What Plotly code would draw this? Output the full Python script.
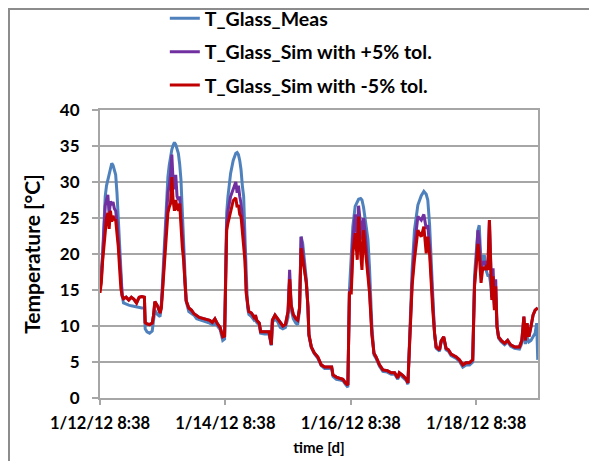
import plotly.graph_objects as go
import pandas as pd

# ---- data (hours after 1/12/12 8:38, temperatures in °C) ----
start_time = "2012-01-12 08:38"
hours = [0, 0.5, 1, 1.5, 2, 2.5, 3, 3.5, 4, 4.5, 5, 5.5, 6, 6.5, 7, 7.5, 8, 8.5, 9, 10,
         11, 12, 13, 14, 15, 16, 17, 17.3, 18, 19, 20, 20.5, 21, 22, 23, 23.5, 24, 24.5, 25, 25.5,
         26, 26.5, 27, 27.5, 28, 28.5, 29, 29.5, 30, 30.5, 31, 31.5, 32, 32.5, 33, 34, 35, 36, 37, 38,
         39, 40, 41, 42, 43, 44, 45, 46, 47, 47.7, 48, 48.5, 49, 50, 51, 52, 52.5, 53, 53.5, 54,
         54.5, 55, 55.5, 56, 56.5, 57, 58, 59, 59.5, 60, 61, 61.5, 63, 64.7, 65.6, 66, 67, 68, 69, 70,
         71, 72, 72.6, 73.2, 74, 75, 75.7, 76.4, 77, 77.6, 78.3, 79, 79.6, 80, 80.9, 82, 83.4, 84.7, 86, 88.7,
         89.2, 90.5, 92, 93, 94, 94.9, 95.5, 96.2, 96.8, 97.7, 98.5, 99, 99.8, 100.3, 100.9, 101.5, 102.6, 103.2, 104.1, 104.9,
         105.7, 107, 108.3, 110, 111.5, 112.8, 114, 114.6, 116, 117.3, 117.9, 118.9, 119.5, 120.4, 121.7, 123, 124, 124.9, 125.5, 126.2,
         126.8, 127.4, 128.1, 128.7, 130, 130.6, 131.6, 132.5, 133.4, 134.4, 136.4, 137.6, 138.9, 140.2, 141.5, 142.7, 143.4, 144, 144.7, 145.2,
         145.9, 146.6, 147.2, 147.8, 148.5, 149.1, 149.5, 150, 150.5, 151, 151.5, 152, 152.6, 153.6, 154.9, 156.1, 157.2, 158.7, 160.6, 161.5,
         162.3, 162.9, 163.5, 164.2, 165, 165.8, 166.6, 167.2, 167.6]

t_glass_meas = [15.5, 17.5, 20, 24, 28, 29.5, 30.3, 31.2, 32.1, 32.6, 32.3, 31.8, 31, 28.5, 24.7, 21, 17.8, 14.2, 13.2, 13,
                12.9, 12.8, 12.7, 12.6, 12.5, 12.5, 12.5, 9.6, 9.2, 9.0, 9.3, 10.5, 12.2, 11.6, 11.3, 13, 16.9, 21, 24.7, 28,
                30.7, 32.3, 33.5, 34.5, 35.1, 35.5, 35.2, 34.7, 34, 32.5, 30.3, 26, 22.4, 17, 13.4, 12.0, 11.8, 11.5, 11.0, 10.9,
                10.8, 10.6, 10.5, 10.4, 10.2, 10.4, 10.0, 9.5, 8.0, 8.2, 15, 25.7, 28, 31.2, 33, 34, 34.1, 33.8, 33, 31.7,
                29.5, 28, 22.4, 16, 12.5, 11.6, 11.3, 10.8, 11.0, 10.5, 10.1, 9.0, 8.9, 8.9, 7.3, 10.5, 11.0, 10.6, 9.8, 9.6,
                9.8, 11.2, 16.5, 12.3, 11.0, 10.4, 10.2, 12.2, 22.4, 21.5, 19, 16.5, 12.5, 8.6, 7.0, 6.2, 5.5, 4.5, 4.1, 4.1,
                3.0, 2.6, 2.5, 2.4, 1.9, 1.5, 15, 19.2, 23.8, 26.6, 27.2, 27.6, 27.7, 27.5, 26.5, 25, 22, 18, 10, 6.0,
                5.5, 4.4, 3.7, 3.6, 3.3, 3.3, 2.6, 3.3, 2.9, 2.4, 1.9, 11, 17.8, 23.3, 26.8, 28.1, 28.7, 28.3, 27.5, 24,
                19.2, 12.2, 8.8, 6.9, 6.5, 7.7, 8.3, 6.7, 6.5, 5.9, 5.5, 5.1, 4.3, 4.6, 4.6, 5.0, 17, 20, 23.3, 24,
                18.7, 19.7, 19.7, 17.8, 17, 17, 16, 14, 15, 13, 14, 10, 8.3, 7.8, 7.4, 7.8, 7.2, 6.9, 6.8, 7.6,
                9.5, 7.5, 8.5, 7.8, 8.0, 8.5, 9.0, 10.4, 5.3]

t_glass_sim_plus5 = [15.0, 16.5, 19.5, 23, 26.7, 27.5, 28.2, 25.5, 27.3, 27, 27.2, 26.3, 26, 24.5, 22, 19, 15.8, 14.2, 13.8, 14,
                     13.6, 14, 13.7, 13.2, 14, 14.1, 14, 10.5, 10.3, 10.2, 10.4, 11.5, 13.4, 12.8, 11.8, 13, 15.5, 18.5, 22, 25,
                     28.5, 29.5, 31, 33.8, 30, 29, 31, 28, 27.5, 28, 25.5, 22, 20, 16, 13.5, 12.5, 12.2, 11.7, 11.4, 11.2,
                     11.1, 11.0, 10.9, 10.8, 10.5, 11.0, 10.3, 9.8, 8.5, 8.6, 14.5, 24, 26, 28, 29, 30, 28.5, 29.5, 28, 27,
                     25, 23.5, 20, 14.8, 13, 12, 11.8, 11.2, 11.5, 10.8, 10.4, 9.2, 9.2, 9.2, 7.4, 10.8, 11.5, 11.0, 10.5, 10.0,
                     10.2, 12, 17.8, 12.9, 11.6, 11.0, 10.8, 12.5, 22.4, 20, 18, 16, 12.8, 8.8, 7.1, 6.3, 5.7, 4.6, 4.3, 4.3,
                     3.2, 2.9, 2.7, 2.6, 2.1, 1.8, 14.6, 15.5, 22, 25.5, 22, 26.7, 24, 22, 25, 23, 18, 15, 9, 6.2,
                     5.7, 4.6, 3.9, 3.8, 3.5, 3.5, 2.8, 3.5, 3.1, 2.6, 2.1, 10.8, 16, 21, 25.2, 24.7, 25.5, 23.5, 24, 21,
                     17, 12.2, 9.0, 7.1, 6.7, 7.9, 8.5, 6.9, 6.7, 6.1, 5.7, 5.3, 4.6, 4.9, 4.9, 5.3, 15.8, 18.5, 23.3, 22,
                     17.5, 19, 18.5, 19, 18, 24.7, 21, 14, 18, 12.5, 16.5, 10, 8.5, 8.0, 7.6, 8.0, 7.4, 7.1, 7.1, 8.0,
                     11.3, 8.0, 10.4, 8.5, 9.9, 11.5, 12.2, 12.4, 12.5]

t_glass_sim_minus5 = [14.6, 16, 19, 21, 23.3, 25, 25.7, 23.5, 26, 24.5, 25.3, 24.8, 24.7, 23, 21, 18, 15.2, 14.2, 13.8, 14,
                      13.6, 14, 13.7, 13.2, 14, 14.1, 14, 10.5, 10.3, 10.2, 10.4, 11.5, 13.4, 12.8, 11.8, 12.5, 15, 18, 21.3, 23.5,
                      25.7, 26.5, 27, 30.7, 27.4, 26, 27.5, 26.5, 26, 27, 23.3, 21, 19.2, 16, 13.5, 12.5, 12.2, 11.7, 11.4, 11.2,
                      11.1, 11.0, 10.9, 10.8, 10.5, 11.0, 10.3, 9.8, 8.5, 8.6, 14, 23.3, 24.3, 25.7, 27.4, 27.8, 26.5, 26.8, 25.5, 25.2,
                      23, 22, 19, 14.5, 13, 12, 11.8, 11.2, 11.5, 10.8, 10.4, 9.2, 9.2, 9.2, 7.4, 10.8, 11.5, 11.0, 10.5, 10.0,
                      10.2, 12, 16.5, 12.9, 11.6, 11.0, 10.8, 12.5, 20.8, 19.2, 17.4, 16, 12.8, 8.8, 7.1, 6.3, 5.7, 4.6, 4.3, 4.3,
                      3.2, 2.9, 2.7, 2.6, 2.1, 1.8, 14.6, 14.6, 20.1, 22.9, 19.2, 25.2, 20.1, 17.8, 23.3, 21, 16.5, 14.6, 8.8, 6.2,
                      5.7, 4.6, 3.9, 3.8, 3.5, 3.5, 2.8, 3.5, 3.1, 2.6, 2.1, 10.8, 15.6, 19.2, 23.3, 22.4, 23.8, 20.1, 22.4, 20,
                      15.5, 12.2, 9.0, 7.1, 6.7, 7.9, 8.5, 6.9, 6.7, 6.1, 5.7, 5.3, 4.6, 4.9, 4.9, 5.3, 15.5, 17.8, 21.4, 20,
                      16, 18.2, 17.8, 18.2, 17.8, 24.7, 20, 13.6, 16.9, 12.2, 15.5, 9.9, 8.5, 8.0, 7.6, 8.0, 7.4, 7.1, 7.1, 8.0,
                      11.3, 8.0, 10.4, 8.5, 9.9, 11.5, 12.2, 12.4, 12.5]

series_names = ["T_Glass_Meas", "T_Glass_Sim with +5% tol.", "T_Glass_Sim with -5% tol."]
series_colors = ["#4F81BD", "#7030A0", "#C00000"]

tick_dates = ["2012-01-12 08:38", "2012-01-14 08:38", "2012-01-16 08:38", "2012-01-18 08:38"]
tick_labels = ["1/12/12 8:38", "1/14/12 8:38", "1/16/12 8:38", "1/18/12 8:38"]
y_ticks = [0, 5, 10, 15, 20, 25, 30, 35, 40]
x_end_hours = 167.7

# ---- figure ----
t0 = pd.Timestamp(start_time)
times = [t0 + pd.Timedelta(hours=h) for h in hours]

fig = go.Figure()
for i, (name, vals, col) in enumerate(zip(series_names,
                                          [t_glass_meas, t_glass_sim_plus5, t_glass_sim_minus5],
                                          series_colors)):
    fig.add_trace(go.Scatter(x=times, y=vals, mode="lines", name=name,
                             line=dict(color=col, width=3), legendgroup=f"g{i}"))

FONT = "Lato, Arial, sans-serif"
GRAY = "#A6A6A6"

# the page body has an 8px margin, so the figure is 8px smaller than the window
fig.update_layout(
    width=589, height=453,
    margin=dict(l=92, r=59, t=102, b=63, autoexpand=False),
    plot_bgcolor="white", paper_bgcolor="white",
    font=dict(family=FONT, color="black"),
    showlegend=True,
    legend=dict(x=0.148, y=1.385, xanchor="left", yanchor="top",
                font=dict(family=FONT, size=19.5, weight=700, color="black"),
                traceorder="grouped", tracegroupgap=5,
                bgcolor="rgba(0,0,0,0)"),
    xaxis=dict(type="date", range=[t0, t0 + pd.Timedelta(hours=x_end_hours)],
               tickvals=[pd.Timestamp(d) for d in tick_dates], ticktext=tick_labels,
               tickfont=dict(family=FONT, size=16.5, weight=700, color="black"),
               ticks="outside", ticklen=5, tickcolor=GRAY, tickwidth=2, ticklabelstandoff=4,
               showgrid=False, showline=True, linecolor=GRAY, linewidth=2, mirror=True,
               zeroline=False,
               title=dict(text="time [d]", font=dict(family=FONT, size=15, weight=700, color="black"),
                          standoff=11)),
    yaxis=dict(range=[0, 40], tickvals=y_ticks,
               tickfont=dict(family=FONT, size=17, weight=700, color="black"),
               ticks="outside", ticklen=6, tickcolor=GRAY, tickwidth=2, ticklabelstandoff=9,
               showgrid=True, gridcolor=GRAY, gridwidth=2,
               showline=True, linecolor=GRAY, linewidth=2, mirror=True, zeroline=False,
               title=dict(text="Temperature [°C]", font=dict(family=FONT, size=21, weight=700, color="black"),
                          standoff=14)),
)

# outer chart-area border (left and top edges visible)
fig.add_shape(type="rect", xref="paper", yref="paper",
              x0=-0.2078, x1=1.3, y0=-0.4, y1=1.351,
              line=dict(color="#8C8C8C", width=2), fillcolor="rgba(0,0,0,0)", layer="below")

fig.write_html("out.html")
